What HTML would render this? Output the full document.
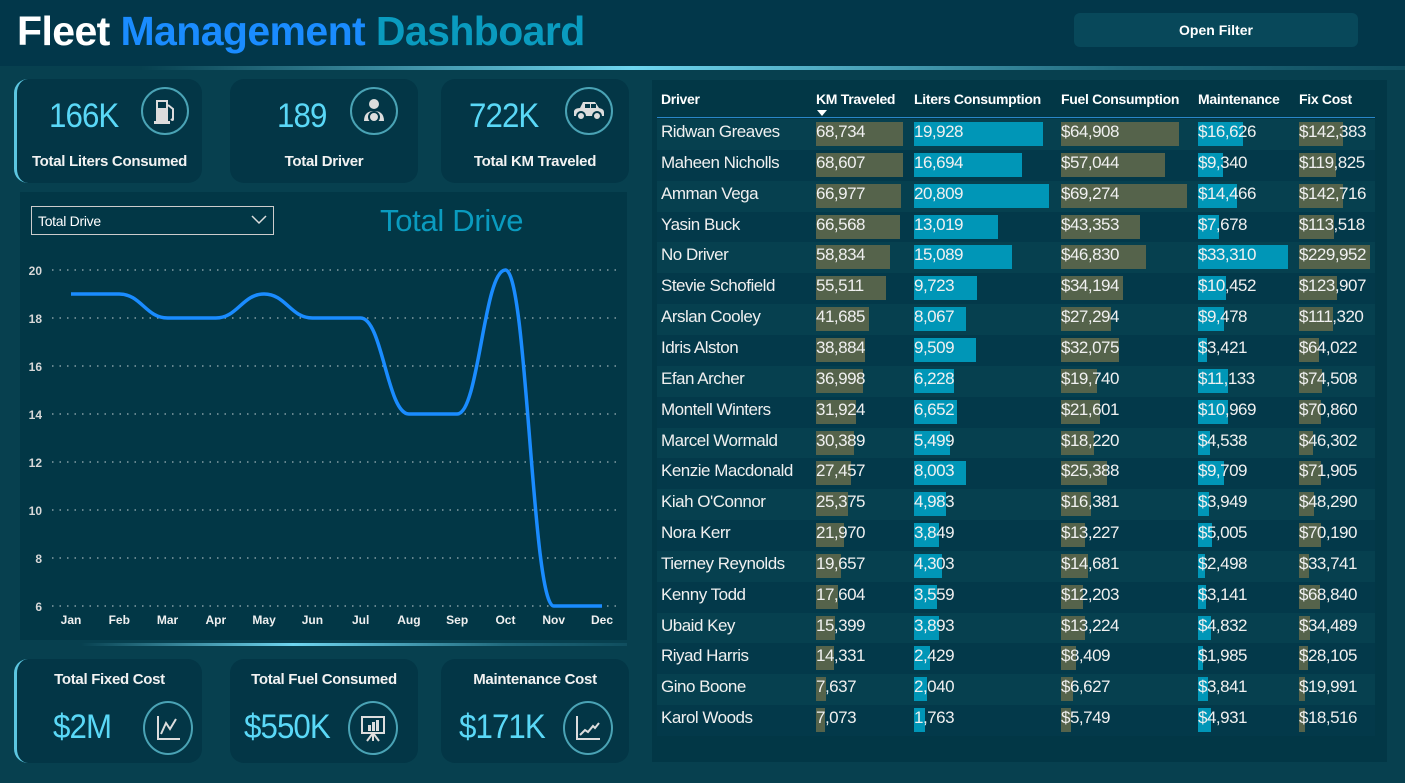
<!DOCTYPE html>
<html><head><meta charset="utf-8">
<style>
*{box-sizing:border-box;margin:0;padding:0}
body{width:1405px;height:783px;overflow:hidden;background:#07404f;font-family:"Liberation Sans","DejaVu Sans",sans-serif;position:relative;color:#fff}
.hdr{position:absolute;left:0;top:0;width:1405px;height:66px;background:#02374a}
.title{position:absolute;left:17px;top:8px;font-size:41px;font-weight:bold;letter-spacing:-0.6px}
.glow{position:absolute;left:0;top:66px;width:1405px;height:4px;background:linear-gradient(90deg,rgba(90,200,230,0) 10%,#6fd6f0 45%,rgba(90,200,230,0.3) 80%,rgba(90,200,230,0.1))}
.btn{position:absolute;left:1074px;top:13px;width:284px;height:34px;background:#08485a;border-radius:6px;font-size:14px;font-weight:bold;text-align:center;line-height:34px}
.card{position:absolute;background:#033646;border-radius:14px;width:188px;height:104px}
.card.first{border-left:3px solid #5cc6e0}
.val{position:absolute;font-size:34px;color:#5ad8f7;letter-spacing:-1px;transform:scaleX(0.92);transform-origin:left}
.lbl{position:absolute;font-size:15px;font-weight:bold;width:100%;text-align:center;color:#f2f2f2;letter-spacing:-0.3px}
.ic{position:absolute;width:48px;height:48px;border-radius:50%;border:2px solid #4aa3b5;display:flex;align-items:center;justify-content:center}
.panel{position:absolute;background:#023746}
.tbl{position:absolute;left:652px;top:80px;width:735px;height:682px;background:#023746}
.th{position:absolute;top:11px;font-size:14px;font-weight:bold;letter-spacing:-0.3px}
.cell{position:absolute;font-size:17px;letter-spacing:-0.5px;color:#f0f0f0;white-space:nowrap}
.bar{position:absolute;height:24px}
</style></head><body>
<div class="hdr"></div>
<div class="title"><span style="color:#fff">Fleet</span> <span style="color:#1a8cff">Management</span> <span style="color:#0a9bbf">Dashboard</span></div>
<div class="btn">Open Filter</div>
<div class="glow"></div>

<div class="card first" style="left:14px;top:79px">
 <div class="val" style="left:32px;top:18px">166K</div>
 <div class="ic" style="left:124px;top:8px"><svg width="26" height="28" viewBox="0 0 26 28"><rect x="4" y="3" width="12" height="22" fill="#ddd"/><rect x="6" y="5" width="8" height="6" fill="#033646"/><path d="M16 8 L21 12 L21 22 Q21 24 19 22" stroke="#ddd" stroke-width="2" fill="none"/><rect x="2" y="24" width="16" height="3" fill="#ddd"/></svg></div>
 <div class="lbl" style="top:74px">Total Liters Consumed</div>
</div>
<div class="card" style="left:230px;top:79px">
 <div class="val" style="left:47px;top:18px">189</div>
 <div class="ic" style="left:120px;top:8px"><svg width="28" height="28" viewBox="0 0 28 28"><circle cx="14" cy="7" r="5" fill="#ddd"/><path d="M4 24 Q4 14 14 14 Q24 14 24 24 Z" fill="#ddd"/><circle cx="14" cy="20" r="5" fill="none" stroke="#033646" stroke-width="2"/></svg></div>
 <div class="lbl" style="top:74px">Total Driver</div>
</div>
<div class="card" style="left:441px;top:79px">
 <div class="val" style="left:28px;top:18px">722K</div>
 <div class="ic" style="left:124px;top:8px"><svg width="34" height="22" viewBox="0 0 34 22"><path d="M2 16 L2 11 Q3 8 8 8 L11 2 L23 2 L27 8 Q32 9 32 12 L32 16 Z" fill="#ddd"/><rect x="13" y="4" width="5" height="4" fill="#033646"/><rect x="19" y="4" width="5" height="4" fill="#033646"/><circle cx="9" cy="16" r="4" fill="#ddd" stroke="#033646" stroke-width="2"/><circle cx="25" cy="16" r="4" fill="#ddd" stroke="#033646" stroke-width="2"/></svg></div>
 <div class="lbl" style="top:74px">Total KM Traveled</div>
</div>

<div class="panel" style="left:20px;top:192px;width:607px;height:448px"></div>
<div style="position:absolute;left:31px;top:206px;width:243px;height:29px;border:1px solid #ccc;font-size:14px;padding:6px 6px;letter-spacing:-0.3px">Total Drive<svg style="position:absolute;right:6px;top:8px" width="16" height="10"><path d="M1 1 L8 8 L15 1" stroke="#ddd" fill="none" stroke-width="1.5"/></svg></div>
<div style="position:absolute;left:380px;top:203px;font-size:31px;color:#0a9bbf;letter-spacing:-0.3px">Total Drive</div>
<svg id="chart" style="position:absolute;left:0;top:0" width="640" height="640"></svg>

<div class="glow" style="left:20px;top:643px;width:607px;height:3px"></div>

<div class="card first" style="left:14px;top:659px">
 <div class="lbl" style="top:12px">Total Fixed Cost</div>
 <div class="val" style="left:36px;top:49px">$2M</div>
 <div class="ic" style="left:126px;top:42px;width:50px;height:54px"><svg width="26" height="28"><path d="M3 2 L3 25 L25 25" stroke="#ddd" stroke-width="2" fill="none"/><path d="M6 20 L11 9 L15 15 L21 5" stroke="#ddd" stroke-width="2" fill="none"/></svg></div>
</div>
<div class="card" style="left:230px;top:659px">
 <div class="lbl" style="top:12px">Total Fuel Consumed</div>
 <div class="val" style="left:14px;top:49px">$550K</div>
 <div class="ic" style="left:118px;top:42px;width:50px;height:54px"><svg width="28" height="28"><rect x="3" y="3" width="22" height="16" fill="none" stroke="#ddd" stroke-width="2"/><rect x="9" y="11" width="3" height="6" fill="#ddd"/><rect x="13" y="8" width="3" height="9" fill="#ddd"/><rect x="17" y="6" width="3" height="11" fill="#ddd"/><path d="M14 19 L14 27 M14 19 L8 27 M14 19 L20 27" stroke="#ddd" stroke-width="2"/></svg></div>
</div>
<div class="card" style="left:441px;top:659px">
 <div class="lbl" style="top:12px">Maintenance Cost</div>
 <div class="val" style="left:18px;top:49px">$171K</div>
 <div class="ic" style="left:122px;top:42px;width:50px;height:54px"><svg width="28" height="28"><path d="M3 2 L3 25 L26 25" stroke="#ddd" stroke-width="2" fill="none"/><path d="M6 21 L11 16 L14 18 L19 12 L21 14 L25 9" stroke="#ddd" stroke-width="2" fill="none"/></svg></div>
</div>

<div class="tbl" id="tbl">
 <div class="th" style="left:9px">Driver</div>
 <div class="th" style="left:164px">KM Traveled</div>
 <div style="position:absolute;left:165px;top:30px;width:0;height:0;border-left:5px solid transparent;border-right:5px solid transparent;border-top:6px solid #fff"></div>
 <div class="th" style="left:262px">Liters Consumption</div>
 <div class="th" style="left:409px">Fuel Consumption</div>
 <div class="th" style="left:546px">Maintenance</div>
 <div class="th" style="left:647px">Fix Cost</div>
 <div style="position:absolute;left:5px;top:37px;width:718px;height:1px;background:#2a86c8"></div>
</div>

<script>
const months=["Jan","Feb","Mar","Apr","May","Jun","Jul","Aug","Sep","Oct","Nov","Dec"];
const drives=[19,19,18,18,19,18,18,14,14,20,6,6];
const yTicks=[6,8,10,12,14,16,18,20];

const drivers=["Ridwan Greaves","Maheen Nicholls","Amman Vega","Yasin Buck","No Driver","Stevie Schofield","Arslan Cooley","Idris Alston","Efan Archer","Montell Winters","Marcel Wormald","Kenzie Macdonald","Kiah O'Connor","Nora Kerr","Tierney Reynolds","Kenny Todd","Ubaid Key","Riyad Harris","Gino Boone","Karol Woods"];
const kmTraveled=[68734,68607,66977,66568,58834,55511,41685,38884,36998,31924,30389,27457,25375,21970,19657,17604,15399,14331,7637,7073];
const litersConsumption=[19928,16694,20809,13019,15089,9723,8067,9509,6228,6652,5499,8003,4983,3849,4303,3559,3893,2429,2040,1763];
const fuelConsumption=[64908,57044,69274,43353,46830,34194,27294,32075,19740,21601,18220,25388,16381,13227,14681,12203,13224,8409,6627,5749];
const maintenance=[16626,9340,14466,7678,33310,10452,9478,3421,11133,10969,4538,9709,3949,5005,2498,3141,4832,1985,3841,4931];
const fixCost=[142383,119825,142716,113518,229952,123907,111320,64022,74508,70860,46302,71905,48290,70190,33741,68840,34489,28105,19991,18516];

const NS="http://www.w3.org/2000/svg";
const svg=document.getElementById('chart');
const x0=71,x1=602,yTop=270,yBot=606,vMin=6,vMax=20;
const xs=i=>x0+(x1-x0)*i/(months.length-1);
const ys=v=>yBot-(v-vMin)/(vMax-vMin)*(yBot-yTop);
yTicks.forEach(t=>{
 const l=document.createElementNS(NS,'line');
 l.setAttribute('x1',52);l.setAttribute('x2',622);l.setAttribute('y1',ys(t));l.setAttribute('y2',ys(t));
 l.setAttribute('stroke','#9fb3b8');l.setAttribute('stroke-dasharray','1.5 6');l.setAttribute('stroke-width','1.3');
 
 
 svg.appendChild(l);
 const tx=document.createElementNS(NS,'text');
 tx.setAttribute('x',42);tx.setAttribute('y',ys(t)+5);tx.setAttribute('text-anchor','end');
 tx.setAttribute('fill','#d8d8d8');tx.setAttribute('font-size','12');tx.setAttribute('font-weight','bold');
 tx.textContent=t;
 
 
 svg.appendChild(tx);
});
months.forEach((m,i)=>{
 const tx=document.createElementNS(NS,'text');
 tx.setAttribute('x',xs(i));tx.setAttribute('y',624);tx.setAttribute('text-anchor','middle');
 tx.setAttribute('fill','#f0f0f0');tx.setAttribute('font-size','12');tx.setAttribute('font-weight','bold');
 tx.textContent=m;
 
 
 svg.appendChild(tx);
});
let d='M'+xs(0)+' '+ys(drives[0]);
for(let i=1;i<drives.length;i++){
 const px=xs(i-1),py=ys(drives[i-1]),cx=xs(i),cy=ys(drives[i]),dx=(cx-px)*0.45;
 d+=` C${px+dx} ${py} ${cx-dx} ${cy} ${cx} ${cy}`;
}
const path=document.createElementNS(NS,'path');
path.setAttribute('d',d);path.setAttribute('fill','none');path.setAttribute('stroke','#1a8cff');path.setAttribute('stroke-width','3.5');


svg.appendChild(path);

const tbl=document.getElementById('tbl');
const cols=[
 {vals:kmTraveled,x:164,w:87,c:'#55634b',pre:'',name:'km-bar'},
 {vals:litersConsumption,x:262,w:135,c:'#0096b7',pre:'',name:'liters-bar'},
 {vals:fuelConsumption,x:409,w:126,c:'#55634b',pre:'$',name:'fuel-bar'},
 {vals:maintenance,x:546,w:90,c:'#0096b7',pre:'$',name:'maintenance-bar'},
 {vals:fixCost,x:647,w:71,c:'#55634b',pre:'$',name:'fix-cost-bar'}
];
const rowY=i=>39+i*30.85;
drivers.forEach((dn,i)=>{
 const y=rowY(i);
 const r=document.createElement('div');
 r.style.cssText=`position:absolute;left:5px;top:${y}px;width:718px;height:31px;background:${i%2?'#03394a':'#06404f'}`;
 
 
 tbl.appendChild(r);
 const n=document.createElement('div');
 n.className='cell';n.style.left='9px';n.style.top=(y+3)+'px';n.textContent=dn;
 
 
 tbl.appendChild(n);
 cols.forEach(c=>{
  const mx=Math.max(...c.vals);
  const b=document.createElement('div');
  b.className='bar';b.style.left=c.x+'px';b.style.top=(y+3)+'px';
  b.style.width=(c.vals[i]/mx*c.w)+'px';b.style.background=c.c;
  
  
  tbl.appendChild(b);
  const t=document.createElement('div');
  t.className='cell';t.style.left=c.x+'px';t.style.top=(y+3)+'px';
  t.textContent=c.pre+c.vals[i].toLocaleString('en-US');
  
  
  tbl.appendChild(t);
 });
});
</script>
</body></html>
